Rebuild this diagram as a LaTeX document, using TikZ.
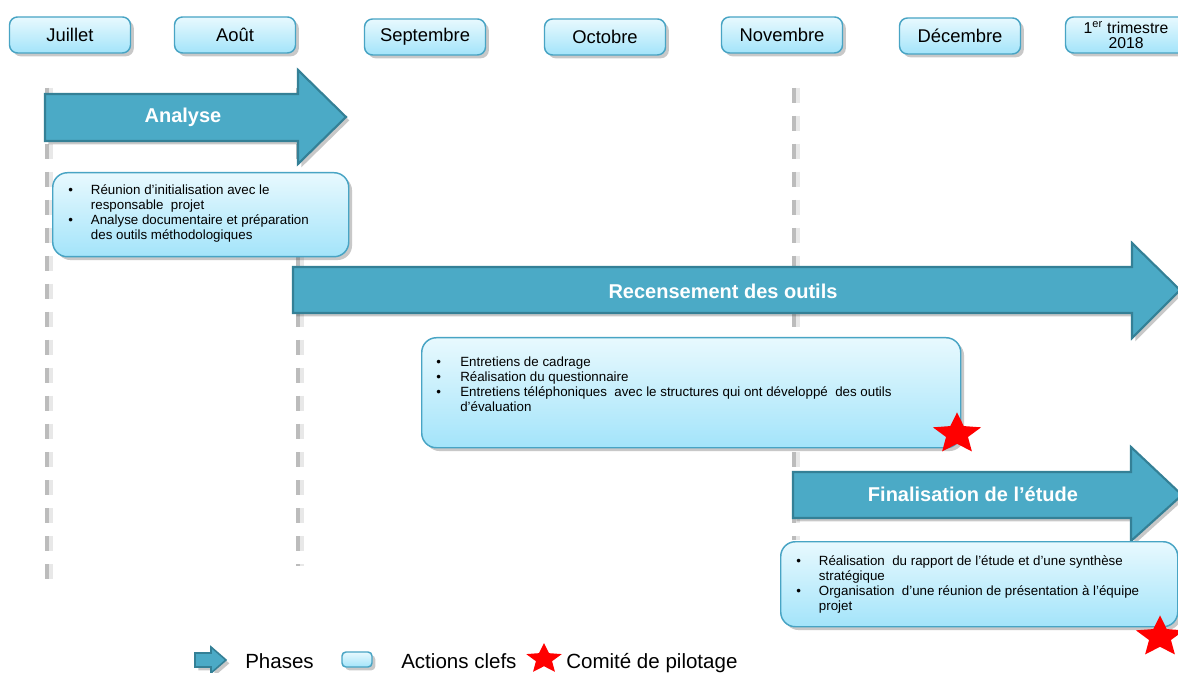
\documentclass[tikz,border=0pt]{standalone}
\usepackage{fontspec}
\setmainfont{Liberation Sans}
\usetikzlibrary{shadows,shapes.geometric}
\definecolor{boxtop}{RGB}{232,249,254}
\definecolor{boxbot}{RGB}{163,228,250}
\definecolor{boxline}{RGB}{72,164,196}
\definecolor{phasefill}{RGB}{75,170,198}
\definecolor{phaseline}{RGB}{52,128,150}
\definecolor{dashgray}{RGB}{188,188,188}
\definecolor{dashshad}{RGB}{232,232,232}
\begin{document}
\begin{tikzpicture}[x=0.75pt,y=-0.75pt,
  shad/.style={drop shadow={shadow xshift=2.5pt,shadow yshift=-2.5pt,opacity=0.3,fill=black!70}},
  month/.style={draw=boxline,line width=1.1pt,rounded corners=6pt,top color=boxtop,bottom color=boxbot,shad,
    minimum width=90.75pt,minimum height=27pt,inner sep=0pt,align=center,font=\fontsize{13.8}{15}\selectfont},
  action/.style={draw=boxline,line width=1.1pt,rounded corners=11pt,top color=boxtop,bottom color=boxbot,shad,
    anchor=north west,inner sep=0pt},
  acttext/.style={anchor=north west,inner sep=0pt,font=\fontsize{10}{11.25}\selectfont},
  phase/.style={fill=phasefill,draw=phaseline,line width=1.6pt,line join=miter,shad},
  phasetext/.style={text=white,inner sep=0pt,font=\fontsize{15}{18}\selectfont\bfseries},
  vline/.style={dashgray,line width=3pt,dash pattern=on 11.25pt off 9.75pt},
  vshad/.style={dashshad,line width=3pt,dash pattern=on 11.25pt off 9.75pt},
  redstar/.style={star,star points=5,star point ratio=2.2,fill=red,draw=none,inner sep=0pt,yscale=0.85,transform shape},
  legtext/.style={anchor=base west,inner sep=0pt,font=\fontsize{15.4}{17}\selectfont}
]
\useasboundingbox (0,0) rectangle (1178,673);
\fill[white] (0,0) rectangle (1178,673);

% vertical dashed markers
\coordinate (l1a) at (47,88);  \coordinate (l1b) at (47,585);
\coordinate (l2a) at (298,88); \coordinate (l2b) at (298,566);
\coordinate (l3a) at (794,88); \coordinate (l3b) at (794,540);
\coordinate (s1a) at (51,88);  \coordinate (s1b) at (51,585);
\coordinate (s2a) at (302,88); \coordinate (s2b) at (302,566);
\coordinate (s3a) at (798,88); \coordinate (s3b) at (798,540);
\draw[vshad] (s1a) -- (s1b);
\draw[vshad] (s2a) -- (s2b);
\draw[vshad] (s3a) -- (s3b);
\draw[vline] (l1a) -- (l1b);
\draw[vline] (l2a) -- (l2b);
\draw[vline] (l3a) -- (l3b);

% months
\node[month] (juil) at (70,35) {Juillet};
\node[month] (aout) at (235,35) {Août};
\node[month] (sept) at (425,37) {Septembre};
\node[month] (oct) at (605,37) {Octobre};
\node[month] (nov) at (782,35) {Novembre};
\node[month] (dec) at (960,36) {Décembre};
\node[month,font=\fontsize{11.8}{11.5}\selectfont] (trim) at (1126,35) {1\textsuperscript{er} trimestre\\2018};

% phases
\path[phase] (45,94) -- (298,94) -- (298,70) -- (346,117) -- (298,164) -- (298,141) -- (45,141) -- cycle;
\node[phasetext] (analyse) at (183,117) {Analyse};
\path[phase] (293,267) -- (1132,267) -- (1132,243) -- (1180,290) -- (1132,338) -- (1132,313) -- (293,313) -- cycle;
\node[phasetext] (recens) at (723,291) {Recensement des outils};
\path[phase] (793,472) -- (1131,472) -- (1131,447) -- (1182,495) -- (1131,541) -- (1131,518) -- (793,518) -- cycle;
\node[phasetext] (final) at (973,494) {Finalisation de l’étude};

% actions
\node[action,minimum width=222pt,minimum height=63pt] (act1) at (52,172) {};
\node[acttext] (t1) at (68,183.5) {\begin{tabular}{@{}p{17pt}@{}l@{}}
•& Réunion d’initialisation avec le\\
 & responsable\ \ projet\\
•& Analyse documentaire\ et préparation\\
 & des outils méthodologiques
\end{tabular}};

\node[action,minimum width=404.25pt,minimum height=82.5pt] (act2) at (421,337) {};
\node[acttext] (t2) at (436,355.5) {\begin{tabular}{@{}p{18pt}@{}l@{}}
•& Entretiens\ de cadrage\\
•& Réalisation\ du questionnaire\\
•& Entretiens téléphoniques\ \ avec le structures qui ont développé\ \ des outils\\
 & d’évaluation
\end{tabular}};

\node[action,minimum width=297.75pt,minimum height=63.75pt] (act3) at (780,541) {};
\node[acttext] (t3) at (796,554.5) {\begin{tabular}{@{}p{17pt}@{}l@{}}
•& Réalisation\ \ du rapport de l’étude\ et d’une\ synthèse\\
 & stratégique\\
•& Organisation\ \ d’une\ réunion de\ présentation\ à l’équipe\\
 & projet
\end{tabular}};

% steering committee stars
\node[redstar,minimum size=38pt] (star1) at (957,434) {};
\node[redstar,minimum size=38pt] (star2) at (1160,637) {};

% legend
\path[phase,line width=1.2pt] (195,653) -- (211,653) -- (211,647) -- (226,660) -- (211,673) -- (211,667) -- (195,667) -- cycle;
\coordinate (legarrow) at (210,660);
\node[legtext] (lphases) at (245,668) {Phases};
\node[draw=boxline,line width=1.1pt,rounded corners=3pt,top color=boxtop,bottom color=boxbot,shad,
      minimum width=22.5pt,minimum height=11.25pt,inner sep=0pt] (legbox) at (357,659.5) {};
\node[legtext] (lactions) at (401,668) {Actions clefs};
\node[redstar,minimum size=28pt] (legstar) at (544,659) {};
\node[legtext] (lcomite) at (566,668) {Comité de pilotage};
\end{tikzpicture}
\end{document}
